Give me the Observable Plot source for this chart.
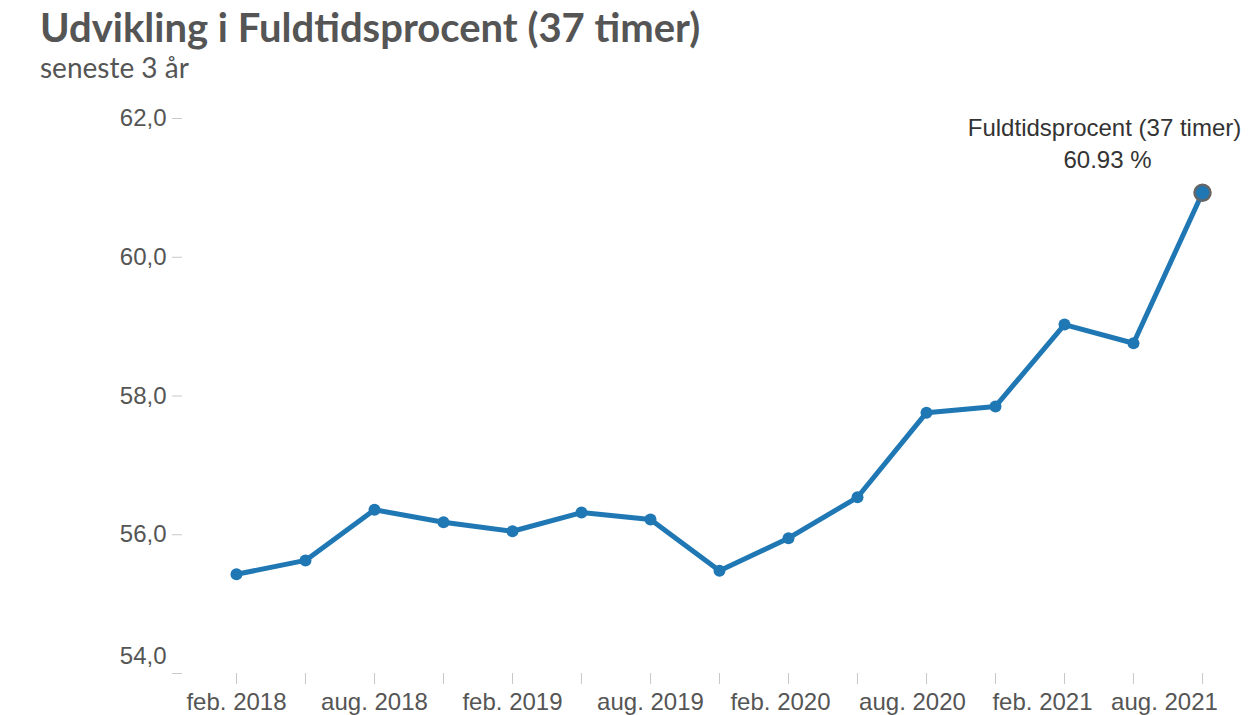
<!DOCTYPE html>
<html>
<head>
<meta charset="utf-8">
<script src="https://cdn.jsdelivr.net/npm/d3@7"></script>
<script src="https://cdn.jsdelivr.net/npm/@observablehq/plot@0.6"></script>
<style>
  html, body { margin: 0; padding: 0; background: #fff; }
  #wrap { width: 1254px; height: 715px; position: relative; overflow: hidden; }
  #head { height: 85px; position: relative; }
  #title { position: absolute; left: 40px; top: 5px; font-family: Lato, "Open Sans", sans-serif; font-weight: 700; font-size: 40px; line-height: 44px; color: #555; white-space: nowrap; }
  #subtitle { position: absolute; left: 40px; top: 52px; font-family: Lato, "Open Sans", sans-serif; font-size: 28px; line-height: 30px; color: #555; white-space: nowrap; }
  #chart svg { display: block; }
</style>
</head>
<body>
<div id="wrap">
  <div id="head">
    <div id="title">Udvikling i Fuldtidsprocent (37 timer)</div>
    <div id="subtitle">seneste 3 år</div>
  </div>
  <div id="chart"></div>
</div>
<script>
const seriesName = "Fuldtidsprocent (37 timer)";
const quarters = ["feb. 2018","maj 2018","aug. 2018","nov. 2018","feb. 2019","maj 2019","aug. 2019","nov. 2019","feb. 2020","maj 2020","aug. 2020","nov. 2020","feb. 2021","maj 2021","aug. 2021"];
const values = [55.43, 55.63, 56.36, 56.18, 56.05, 56.32, 56.22, 55.48, 55.95, 56.54, 57.76, 57.85, 59.03, 58.76, 60.93];
const yTicks = [54, 56, 58, 60, 62];
const labeledQuarters = quarters.filter((d, i) => i % 2 === 0);

const data = quarters.map((q, i) => ({q, v: values[i]}));
const last = data[data.length - 1];
const fmt = d => d.toFixed(1).replace(".", ",");
const blue = "#1f77b4";

// small horizontal nudges for the later tick labels (as in the original layout)
const labelShift = {"feb. 2020": -8, "aug. 2020": -14, "feb. 2021": -22, "aug. 2021": -38};

const chart = Plot.plot({
  width: 1254,
  height: 630,
  marginTop: 33,
  marginBottom: 42,
  marginLeft: 182,
  marginRight: 50,
  style: {fontFamily: "'Liberation Sans', Arial, sans-serif", background: "white", color: "#555"},
  x: {type: "point", domain: quarters, padding: 0, insetLeft: 51, label: null, axis: null},
  y: {domain: [54, 62], label: null, axis: null},
  marks: [
    Plot.axisY(yTicks, {tickSize: 10, tickPadding: 6, stroke: "#c8c8c8", fill: "#555", fontSize: 24,
      tickFormat: d => d === 54 ? "" : fmt(d), label: null}),
    Plot.axisY([54], {tickSize: 0, tickPadding: 16, fill: "#555", fontSize: 24, dy: -17,
      tickFormat: fmt, label: null}),
    Plot.axisX(quarters, {tickSize: 11, tickPadding: 8, stroke: "#c8c8c8", fill: "#555", fontSize: 24,
      tickFormat: d => "", label: null}),
    ...labeledQuarters.map(q => Plot.axisX([q], {tickSize: 0, tickPadding: 19, fill: "#555", fontSize: 24,
      dx: labelShift[q] || 0, tickFormat: d => d, label: null})),
    Plot.line(data, {x: "q", y: "v", stroke: blue, strokeWidth: 5, strokeLinejoin: "round"}),
    Plot.dot(data.slice(0, -1), {x: "q", y: "v", r: 6, fill: blue}),
    Plot.dot([last], {x: "q", y: "v", r: 8, fill: blue, stroke: "#666", strokeWidth: 2.5}),
    Plot.text([last], {x: "q", y: "v", text: d => seriesName, dx: -98, dy: -64, fontSize: 24, fill: "#333", textAnchor: "middle"}),
    Plot.text([last], {x: "q", y: "v", text: d => d.v.toFixed(2) + " %", dx: -95, dy: -32, fontSize: 24, fill: "#333", textAnchor: "middle"})
  ]
});
document.getElementById("chart").appendChild(chart);
</script>
</body>
</html>
